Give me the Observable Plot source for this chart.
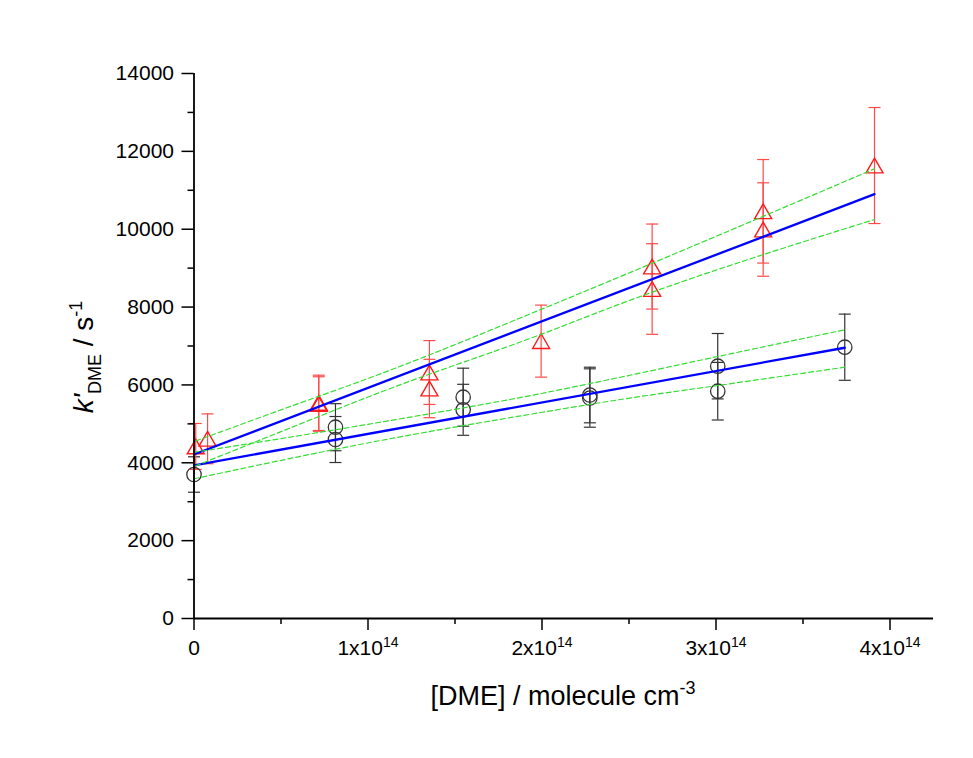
<!DOCTYPE html>
<html><head><meta charset="utf-8">
<script src="https://cdn.jsdelivr.net/npm/d3@7"></script>
<script src="https://cdn.jsdelivr.net/npm/@observablehq/plot@0.6"></script>
<style>body{margin:0;background:#fff;} svg{display:block;}</style>
</head><body><div id="chart"></div>
<script>
const E = 1e14;
// x values in units of 1e14 molecule cm^-3
const blackX = [0, 0.813, 0.813, 1.547, 1.547, 2.275, 2.275, 3.01, 3.01, 3.74];
const blackY = [3699, 4914, 4598, 5685, 5361, 5741, 5664, 6481, 5839, 6969];
const blackErr = [455, 604, 591, 745, 655, 714, 750, 840, 740, 850];

const redX = [0.01, 0.078, 0.717, 0.717, 1.353, 1.353, 1.995, 2.633, 2.633, 3.271, 3.271, 3.911];
const redY = [4420, 4616, 5540, 5510, 6319, 5908, 7125, 9041, 8464, 10460, 9992, 11636];
const redErr = [590, 640, 710, 700, 820, 750, 925, 1092, 1164, 1330, 1200, 1490];

const fitRedX = [0.01, 3.911];
const fitRedY = [4232, 10900];
const fitBlackX = [0, 3.74];
const fitBlackY = [3935, 6955];

const redBandX = [0.01, 0.5, 1.072, 2.003, 2.451, 3.911];
const redBandUpper = [4560, 5360, 6285, 7955, 8785, 11552];
const redBandLower = [3920, 4800, 5814, 7313, 8084, 10249];
const blackBandX = [0, 1.072, 2.003, 2.451, 3.01, 3.74];
const blackBandUpper = [4270, 5043, 5787, 6198, 6730, 7416];
const blackBandLower = [3589, 4572, 5299, 5626, 5985, 6455];

const xMajorTicks = [0, 1, 2, 3, 4];
const xMinorTicks = [0.5, 1.5, 2.5, 3.5];
const yMajorTicks = [0, 2000, 4000, 6000, 8000, 10000, 12000, 14000];
const yMinorTicks = [1000, 3000, 5000, 7000, 9000, 11000, 13000];

const pts = (xs, ys, es) => xs.map((x, i) => ({x: x * E, y: ys[i], e: es ? es[i] : 0}));
const black = pts(blackX, blackY, blackErr);
const red = pts(redX, redY, redErr);
const fitRed = pts(fitRedX, fitRedY);
const fitBlack = pts(fitBlackX, fitBlackY);
const rU = pts(redBandX, redBandUpper), rL = pts(redBandX, redBandLower);
const bU = pts(blackBandX, blackBandUpper), bL = pts(blackBandX, blackBandLower);

const capSymbol = {draw(ctx, size) { const r = Math.sqrt(size / Math.PI); ctx.moveTo(-r, 0); ctx.lineTo(r, 0); }};
const triSymbol = {draw(ctx, size) {
  const r = Math.sqrt(size / Math.PI); const h = r * Math.sqrt(3);
  ctx.moveTo(0, -h / 2); ctx.lineTo(r, h / 2); ctx.lineTo(-r, h / 2); ctx.closePath();
}};

const blackCol = "#333", redBar = "#ff4a4a", redMark = "#ff1a1a", blue = "#0000ff", green = "#33dd33";

const errMarks = (data, col) => [
  Plot.ruleX(data, {x: "x", y1: d => d.y - d.e, y2: d => d.y + d.e, stroke: col, strokeWidth: 1.2}),
  Plot.dot(data, {x: "x", y: d => d.y + d.e, symbol: capSymbol, r: 6, stroke: col, strokeWidth: 1.2}),
  Plot.dot(data, {x: "x", y: d => d.y - d.e, symbol: capSymbol, r: 6, stroke: col, strokeWidth: 1.2})
];
const band = (data) => Plot.line(data, {x: "x", y: "y", stroke: green, strokeWidth: 1.2, strokeDasharray: "5,3", curve: "monotone-x"});

const chart = Plot.plot({
  width: 973, height: 758,
  marginLeft: 193.5, marginRight: 40, marginTop: 73, marginBottom: 140,
  style: {fontFamily: "'Liberation Sans', Arial, sans-serif", fontSize: "21px", color: "black", background: "white"},
  x: {domain: [0, 4.25 * E], label: null},
  y: {domain: [0, 14000], label: null},
  marks: [
    ...errMarks(black, blackCol),
    ...errMarks(red, redBar),
    Plot.dot(black, {x: "x", y: "y", r: 7.2, stroke: blackCol, strokeWidth: 1.3, fill: "none"}),
    Plot.dot(red, {x: "x", y: "y", r: 8.5, symbol: triSymbol, stroke: redMark, strokeWidth: 1.4, fill: "none"}),
    Plot.line(fitRed, {x: "x", y: "y", stroke: blue, strokeWidth: 2.3}),
    Plot.line(fitBlack, {x: "x", y: "y", stroke: blue, strokeWidth: 2.3}),
    band(rU), band(rL), band(bU), band(bL),
    Plot.axisX({ticks: xMinorTicks.map(v => v * E), tickSize: 6, tickFormat: () => "", label: null, strokeWidth: 1.5}),
    Plot.axisX({ticks: xMajorTicks.map(v => v * E), tickSize: 12, tickPadding: 10, label: null, strokeWidth: 1.5,
      tickFormat: d => d === 0 ? "0" : `${Math.round(d / E)}x10`}),
    Plot.axisY({ticks: yMinorTicks, tickSize: 6, tickFormat: () => "", label: null, strokeWidth: 1.5}),
    Plot.axisY({ticks: yMajorTicks, tickSize: 12, tickPadding: 8, label: null, strokeWidth: 1.5, tickFormat: d => String(d)}),
    Plot.ruleY([0], {stroke: "black", strokeWidth: 1.8}),
    Plot.ruleX([0], {stroke: "black", strokeWidth: 1.8})
  ]
});

const svg = d3.select(chart);
svg.selectAll('g[aria-label="x-axis tick label"] text').each(function() {
  const t = d3.select(this);
  const s = t.text();
  if (s && s !== "0") {
    t.append("tspan").attr("font-size", "14px").attr("dy", "-8").text("14");
  }
});

// X axis title
const xt = svg.append("text").attr("x", 563).attr("y", 705).attr("text-anchor", "middle")
  .attr("font-size", "27px").attr("fill", "black");
xt.append("tspan").text("[DME] / molecule cm");
xt.append("tspan").attr("font-size", "18px").attr("dy", "-11").text("-3");

// Y axis title
const yt = svg.append("text").attr("transform", "translate(93,357) rotate(-90)").attr("text-anchor", "middle")
  .attr("font-size", "28px").attr("fill", "black");
yt.append("tspan").attr("font-style", "italic").text("k'");
yt.append("tspan").attr("font-size", "18px").attr("dy", "8").text("DME");
yt.append("tspan").attr("dy", "-8").text(" / s");
yt.append("tspan").attr("font-size", "18px").attr("dy", "-11").text("-1");

document.getElementById("chart").appendChild(chart);
</script>
</body></html>
